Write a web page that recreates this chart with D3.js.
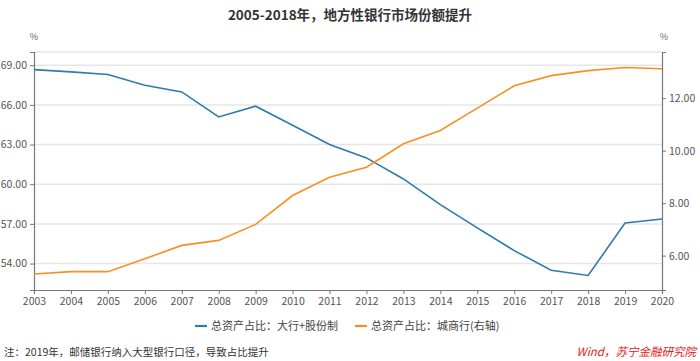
<!DOCTYPE html>
<html>
<head>
<meta charset="utf-8">
<script src="https://cdn.jsdelivr.net/npm/d3@7"></script>
<style>
	body { margin: 0; background: #fff; }
	svg text { font-family: "Noto Sans CJK SC", "Noto Sans", sans-serif; }
</style>
</head>
<body>
<div id="chart"></div>
<script>
const years = [2003, 2004, 2005, 2006, 2007, 2008, 2009, 2010, 2011, 2012, 2013, 2014, 2015, 2016, 2017, 2018, 2019, 2020];
// 总资产占比：大行+股份制 (left axis)
const bigBanks = [68.67, 68.5, 68.3, 67.49, 66.98, 65.09, 65.9, 64.46, 63.0, 61.99, 60.4, 58.46, 56.7, 54.98, 53.5, 53.1, 57.07, 57.37];
// 总资产占比：城商行 (right axis)
const cityBanks = [5.30, 5.39, 5.39, 5.88, 6.39, 6.58, 7.19, 8.29, 8.99, 9.37, 10.26, 10.77, 11.62, 12.47, 12.86, 13.05, 13.17, 13.12];
const leftTicks = [54, 57, 60, 63, 66, 69];
const rightTicks = [6, 8, 10, 12];
const seriesNames = ["总资产占比：大行+股份制", "总资产占比：城商行(右轴)"];

const width = 700, height = 361;
const margin = {top: 52, right: 38, bottom: 71, left: 34};
const innerW = width - margin.left - margin.right;
const innerH = height - margin.top - margin.bottom;
const blue = "#2c7bab", orange = "#f98e22";

const svg = d3.select("#chart").append("svg")
	.attr("width", width)
	.attr("height", height);

const x = d3.scaleLinear().domain([2003, 2020]).range([0, innerW]);
const yL = d3.scaleLinear().domain([52, 70]).range([innerH, 0]);
const yR = d3.scaleLinear().domain([4.69, 13.76]).range([innerH, 0]);

const g = svg.append("g").attr("transform", "translate(" + margin.left + "," + margin.top + ")");

// grid lines
g.selectAll(".grid")
	.data(leftTicks.concat([70]))
	.enter().append("line")
	.attr("x1", 0).attr("x2", innerW)
	.attr("y1", d => yL(d)).attr("y2", d => yL(d))
	.attr("stroke", "#e6e6e6").attr("stroke-width", 1.5);

// axes
const axisLeft = g.append("g")
	.call(d3.axisLeft(yL).tickValues(leftTicks).tickFormat(d3.format(".2f")).tickSize(4).tickPadding(3));
const axisRight = g.append("g")
	.attr("transform", "translate(" + innerW + ",0)")
	.call(d3.axisRight(yR).tickValues(rightTicks).tickFormat(d3.format(".2f")).tickSize(4).tickPadding(3));
const axisBottom = g.append("g")
	.attr("transform", "translate(0," + innerH + ")")
	.call(d3.axisBottom(x).tickValues(years).tickFormat(d3.format("d")).tickSize(4).tickPadding(4));

[axisLeft, axisRight, axisBottom].forEach(a => {
	a.select(".domain").attr("stroke", "#777").attr("stroke-width", 1.2);
	a.selectAll(".tick line").attr("stroke", "#777");
	a.selectAll(".tick text").attr("fill", "#555").attr("font-size", 10.5);
});

// lines
const lineL = d3.line().x((d, i) => x(years[i])).y(d => yL(d));
const lineR = d3.line().x((d, i) => x(years[i])).y(d => yR(d));

g.append("path").datum(bigBanks)
	.attr("d", lineL).attr("fill", "none").attr("stroke", blue).attr("stroke-width", 1.6);
g.append("path").datum(cityBanks)
	.attr("d", lineR).attr("fill", "none").attr("stroke", orange).attr("stroke-width", 1.6);

// title
svg.append("text")
	.attr("x", 350).attr("y", 20)
	.attr("text-anchor", "middle")
	.attr("font-size", 13.5).attr("font-weight", "bold").attr("fill", "#333")
	.text("2005-2018年，地方性银行市场份额提升");

// unit labels
svg.append("text").attr("x", 34).attr("y", 40).attr("text-anchor", "middle")
	.attr("font-size", 9).attr("fill", "#666").text("%");
svg.append("text").attr("x", 664).attr("y", 40).attr("text-anchor", "middle")
	.attr("font-size", 9).attr("fill", "#666").text("%");

// legend
const legend = svg.append("g").attr("transform", "translate(195,326)");
const legendItems = [{name: seriesNames[0], color: blue, x: 0}, {name: seriesNames[1], color: orange, x: 160}];
legendItems.forEach(it => {
	legend.append("line").attr("x1", it.x).attr("x2", it.x + 12).attr("y1", 0).attr("y2", 0)
		.attr("stroke", it.color).attr("stroke-width", 2.2);
	legend.append("text").attr("x", it.x + 16).attr("y", 4)
		.attr("font-size", 11).attr("fill", "#444").text(it.name);
});

// footer
svg.append("text").attr("x", 4).attr("y", 356)
	.attr("font-size", 10.5).attr("fill", "#333")
	.text("注：2019年，邮储银行纳入大型银行口径，导致占比提升");
svg.append("text").attr("x", 696).attr("y", 356).attr("text-anchor", "end")
	.attr("font-size", 11.5).attr("fill", "#e02020").attr("font-style", "italic")
	.text("Wind，苏宁金融研究院");
</script>
</body>
</html>
